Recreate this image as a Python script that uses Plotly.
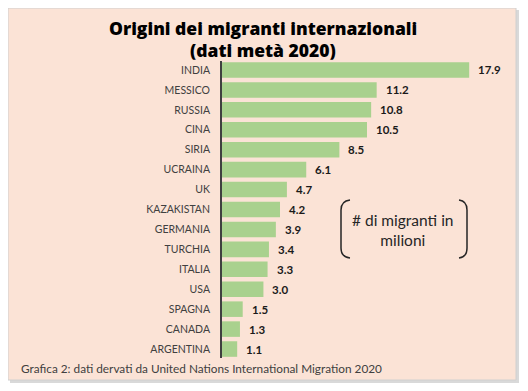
import plotly.graph_objects as go

countries = ["INDIA", "MESSICO", "RUSSIA", "CINA", "SIRIA", "UCRAINA", "UK", "KAZAKISTAN",
             "GERMANIA", "TURCHIA", "ITALIA", "USA", "SPAGNA", "CANADA", "ARGENTINA"]
migrants = [17.9, 11.2, 10.8, 10.5, 8.5, 6.1, 4.7, 4.2, 3.9, 3.4, 3.3, 3.0, 1.5, 1.3, 1.1]

title_line1 = "Origini dei migranti internazionali"
title_line2 = "(dati metà 2020)"
note_text = "# di migranti in<br>milioni"
source_text = "Grafica 2: dati dervati da United Nations International Migration 2020"

# page is rendered with an 8px body margin, so the figure is offset by (8, 8)
OFF = 8
W, H = 528 - OFF, 391 - OFF
def px(x): return (x - OFF) / W
def py(y): return 1 - (y - OFF) / H

fig = go.Figure()
fig.add_trace(go.Bar(
    y=countries, x=migrants, orientation="h",
    marker=dict(color="#A9D18E", line=dict(width=0)),
    hoverinfo="x+y",
))

body_font = "Lato, Open Sans, sans-serif"
annotations = []
for c, v in zip(countries, migrants):
    annotations.append(dict(x=v, y=c, xref="x", yref="y", text=f"<b>{v:.1f}</b>",
                            showarrow=False, xanchor="left", xshift=7,
                            font=dict(family=body_font, size=11.5, color="#1a1a1a")))
title_font = dict(family="Open Sans, Roboto, Arial, sans-serif", size=17.5, color="#000000", weight=800)
annotations.append(dict(x=px(263), y=py(28.5), xref="paper", yref="paper", text=title_line1,
                        showarrow=False, xanchor="center", yanchor="middle", font=title_font))
annotations.append(dict(x=px(263), y=py(49.5), xref="paper", yref="paper", text=title_line2,
                        showarrow=False, xanchor="center", yanchor="middle", font=title_font))
annotations.append(dict(x=px(403), y=py(230), xref="paper", yref="paper", text=note_text,
                        showarrow=False, xanchor="center", yanchor="middle",
                        font=dict(family=body_font, size=15.5, color="#262626")))
annotations.append(dict(x=px(19), y=py(368), xref="paper", yref="paper", text=source_text,
                        showarrow=False, xanchor="left", yanchor="middle",
                        font=dict(family=body_font, size=11.8, color="#404040")))

shapes = [
    # shadow
    dict(type="rect", xref="paper", yref="paper", x0=px(10), x1=px(519), y0=py(383), y1=py(10),
         fillcolor="#d9d9d9", line=dict(width=0), layer="below"),
    # panel
    dict(type="rect", xref="paper", yref="paper", x0=px(8), x1=px(516), y0=py(380), y1=py(8),
         fillcolor="#FBE3D6", line=dict(color="#d0d0d0", width=1), layer="below"),
    # axis line
    dict(type="line", xref="paper", yref="paper", x0=px(221), x1=px(221), y0=py(61), y1=py(358),
         line=dict(color="#404040", width=2)),
    # left bracket
    dict(type="path", xref="paper", yref="paper",
         path=f"M {px(350)},{py(200)} Q {px(341)},{py(201)} {px(341)},{py(210)} L {px(341)},{py(248)} Q {px(341)},{py(257)} {px(350)},{py(258)}",
         line=dict(color="#262626", width=1.5)),
    # right bracket
    dict(type="path", xref="paper", yref="paper",
         path=f"M {px(459)},{py(200)} Q {px(467)},{py(201)} {px(467)},{py(210)} L {px(467)},{py(248)} Q {px(467)},{py(257)} {px(459)},{py(258)}",
         line=dict(color="#262626", width=1.5)),
]

fig.update_layout(
    width=W, height=H,
    margin=dict(l=0, r=0, t=0, b=0),
    paper_bgcolor="white",
    plot_bgcolor="rgba(0,0,0,0)",
    showlegend=False,
    bargap=0.22,
    xaxis=dict(range=[0, 21], domain=[px(222), px(512)], visible=False, fixedrange=True),
    yaxis=dict(domain=[py(359), py(60)], autorange="reversed", showgrid=False, showline=False,
               ticks="", ticklabelstandoff=11,
               tickfont=dict(family=body_font, size=10.5, color="#404040")),
    annotations=annotations,
    shapes=shapes,
)

fig.write_html("out.html")
